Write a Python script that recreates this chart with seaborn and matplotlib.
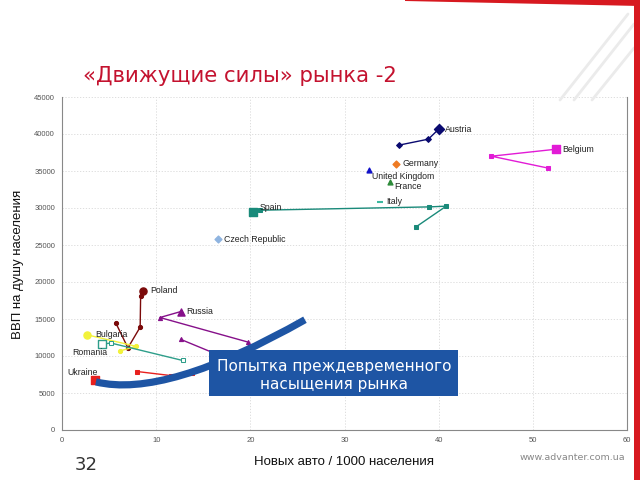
import matplotlib
matplotlib.use("Agg")
import matplotlib.pyplot as plt
import seaborn as sns
from matplotlib.patches import Rectangle, Polygon, PathPatch
from matplotlib.path import Path

# ---------------- data ----------------
countries = ["Austria", "Belgium", "Germany", "United Kingdom", "France", "Italy",
             "Spain", "Czech Republic", "Poland", "Russia", "Bulgaria", "Romania", "Ukraine"]

austria_x = [35.8, 38.9, 40.0]
austria_y = [38500, 39300, 40650]
belgium_x = [51.6, 45.6, 52.5]
belgium_y = [35400, 37000, 37950]
germany_x = [35.5]
germany_y = [36000]
uk_x = [32.6]
uk_y = [35150]
france_x = [34.8]
france_y = [33450]
italy_x = [33.8]
italy_y = [30850]
spain_x = [37.6, 40.8, 39.0, 21.0, 20.3]
spain_y = [27450, 30250, 30150, 29700, 29400]
czech_x = [16.6]
czech_y = [25800]
poland_x = [5.7, 7.0, 8.3, 8.35, 8.6]
poland_y = [14500, 11100, 13900, 18100, 18800]
russia_x = [12.6, 20.5, 19.7, 10.4, 12.6]
russia_y = [12250, 8100, 11900, 15200, 16000]
bulgaria_x = [6.2, 7.9, 2.7]
bulgaria_y = [10700, 11300, 12850]
romania_x = [12.8, 5.2, 4.2]
romania_y = [9400, 11750, 11600]
ukraine_x = [8.0, 11.6, 13.8]
ukraine_y = [7900, 7350, 7750]
ukraine_last_x = [3.5]
ukraine_last_y = [6700]

x_ticks = [0, 10, 20, 30, 40, 50, 60]
y_ticks = [0, 5000, 10000, 15000, 20000, 25000, 30000, 35000, 40000, 45000]

title = "«Движущие силы» рынка -2"
x_label = "Новых авто / 1000 населения"
y_label = "ВВП на душу населения"
callout = ["Попытка преждевременного", "насыщения рынка"]

# annotation curve (arrow-like stroke), control points in data units
curve_x = [3.6, 11.0, 25.8]
curve_y = [6500, 4200, 14900]

# ---------------- figure ----------------
sns.set_theme(style="white")
plt.rcParams["font.family"] = ["Liberation Sans", "DejaVu Sans"]

fig = plt.figure(figsize=(6.4, 4.8), dpi=100)
ax = fig.add_axes([62 / 640, 1 - 430 / 480, 565 / 640, 333 / 480])

series = [
    ("Austria", austria_x, austria_y, "#0A0A70", "D", False, (6, 0)),
    ("Belgium", belgium_x, belgium_y, "#E21BD6", "s", False, (6, 0)),
    ("Germany", germany_x, germany_y, "#EE7A22", "D", False, (6, 0)),
    ("United Kingdom", uk_x, uk_y, "#1010C8", "^", False, (3, -7)),
    ("France", france_x, france_y, "#2E8B3A", "^", False, (5, -4)),
    ("Italy", italy_x, italy_y, "#3CB9A0", "_", False, (6, 0)),
    ("Spain", spain_x, spain_y, "#1A8A7A", "s", False, (6, 5)),
    ("Czech Republic", czech_x, czech_y, "#8FB4E0", "D", False, (6, 0)),
    ("Poland", poland_x, poland_y, "#7B0A0A", "o", False, (7, 0)),
    ("Russia", russia_x, russia_y, "#86108A", "^", False, (6, 0)),
    ("Bulgaria", bulgaria_x, bulgaria_y, "#F2F23A", "o", False, (8, 0)),
    ("Romania", romania_x, romania_y, "#2E9E8A", "s", True, (-29, -8)),
    ("Ukraine", ukraine_x, ukraine_y, "#E8201E", "s", False, (-28, 8)),
]

px = 0.72  # pixel -> points at 100 dpi

for name, xs, ys, col, mk, hollow, off in series:
    fc = "white" if hollow else col
    if len(xs) > 1:
        sns.lineplot(x=xs, y=ys, sort=False, estimator=None, color=col, lw=1.0,
                     marker=mk, markersize=3.0, markerfacecolor=fc,
                     markeredgecolor=col, ax=ax, zorder=3)
    if name == "Ukraine":
        lx, ly = ukraine_last_x[-1], ukraine_last_y[-1]
    else:
        lx, ly = xs[-1], ys[-1]
    big = len(xs) > 1 or name == "Ukraine"
    size = 26 if big else 12
    if mk == "_":
        ax.plot([lx], [ly], marker="_", color=col, markersize=5, mew=1.5, zorder=4)
    else:
        sns.scatterplot(x=[lx], y=[ly], marker=mk, s=size, color=fc,
                        edgecolor=col, linewidth=1.0, ax=ax, zorder=4)
    ax.annotate(name, (lx, ly), xytext=(off[0] * px, off[1] * px),
                textcoords="offset points", ha="left", va="center",
                fontsize=6.3, color="#222222", zorder=5)

# axes styling
ax.set_xlim(0, 60)
ax.set_ylim(0, 45000)
ax.set_xticks(x_ticks)
ax.set_yticks(y_ticks)
ax.set_xticklabels([str(v) for v in x_ticks])
ax.set_yticklabels([str(v) for v in y_ticks])
ax.tick_params(axis="both", labelsize=5.5, labelcolor="#555555", colors="#777777",
               direction="out", length=3, width=0.6, pad=2)
ax.tick_params(axis="both", labelcolor="#555555")
ax.grid(True, linestyle=(0, (1.5, 2)), color="#D8D8D8", lw=0.6)
for s in ["left", "bottom", "right"]:
    ax.spines[s].set_color("#888888")
    ax.spines[s].set_linewidth(0.8)
ax.spines["top"].set_visible(False)
ax.set_xlabel("")
ax.set_ylabel("")

# thick blue annotation stroke
verts = list(zip(curve_x, curve_y))
path = Path(verts, [Path.MOVETO, Path.CURVE3, Path.CURVE3])
ax.add_patch(PathPatch(path, fill=False, edgecolor="#1E55A4", lw=5.2,
                       capstyle="butt", zorder=6, clip_on=False))

# callout box
fig.add_artist(Rectangle((209 / 640, 1 - 396 / 480), 249 / 640, 46 / 480,
                         transform=fig.transFigure, facecolor="#1E55A4",
                         edgecolor="none", zorder=10))
fig.text(334 / 640, 1 - 367 / 480, callout[0], ha="center", va="center",
         color="white", fontsize=11.0, family="DejaVu Sans", zorder=11)
fig.text(334 / 640, 1 - 384 / 480, callout[1], ha="center", va="center",
         color="white", fontsize=11.0, family="DejaVu Sans", zorder=11)

# titles and labels
fig.text(83 / 640, 1 - 76 / 480, title, ha="left", va="center",
         color="#C4122F", fontsize=15.3, family="DejaVu Sans")
fig.text(18 / 640, 1 - 264 / 480, y_label, rotation=90, ha="center", va="center",
         fontsize=9.5, color="#111111")
fig.text(344 / 640, 1 - 462 / 480, x_label, ha="center", va="center",
         fontsize=9.5, color="#111111")
fig.text(86 / 640, 1 - 465 / 480, "32", ha="center", va="center",
         fontsize=13, color="#333333", family="DejaVu Sans")
fig.text(625 / 640, 1 - 458 / 480, "www.advanter.com.ua", ha="right", va="center",
         fontsize=6.8, color="#888888", family="DejaVu Sans")

# slide decoration (top-right)
fig.add_artist(Polygon([(405 / 640, 1.0), (1.0, 1.0), (1.0, 1 - 6 / 480),
                        (405 / 640, 1 - 1 / 480)], closed=True,
                       transform=fig.transFigure, facecolor="#D71920",
                       edgecolor="none", zorder=12))
fig.add_artist(Rectangle((634 / 640, 0), 6 / 640, 1.0, transform=fig.transFigure,
                         facecolor="#D71920", edgecolor="none", zorder=12))
for (x0, y0, x1, y1) in [(560, 100, 628, 14), (574, 100, 634, 24), (592, 100, 634, 48)]:
    fig.add_artist(plt.Line2D([x0 / 640, x1 / 640], [1 - y0 / 480, 1 - y1 / 480],
                              transform=fig.transFigure, color="#EBEBEB", lw=2.0,
                              zorder=1))

fig.savefig("out.png", dpi=100)
